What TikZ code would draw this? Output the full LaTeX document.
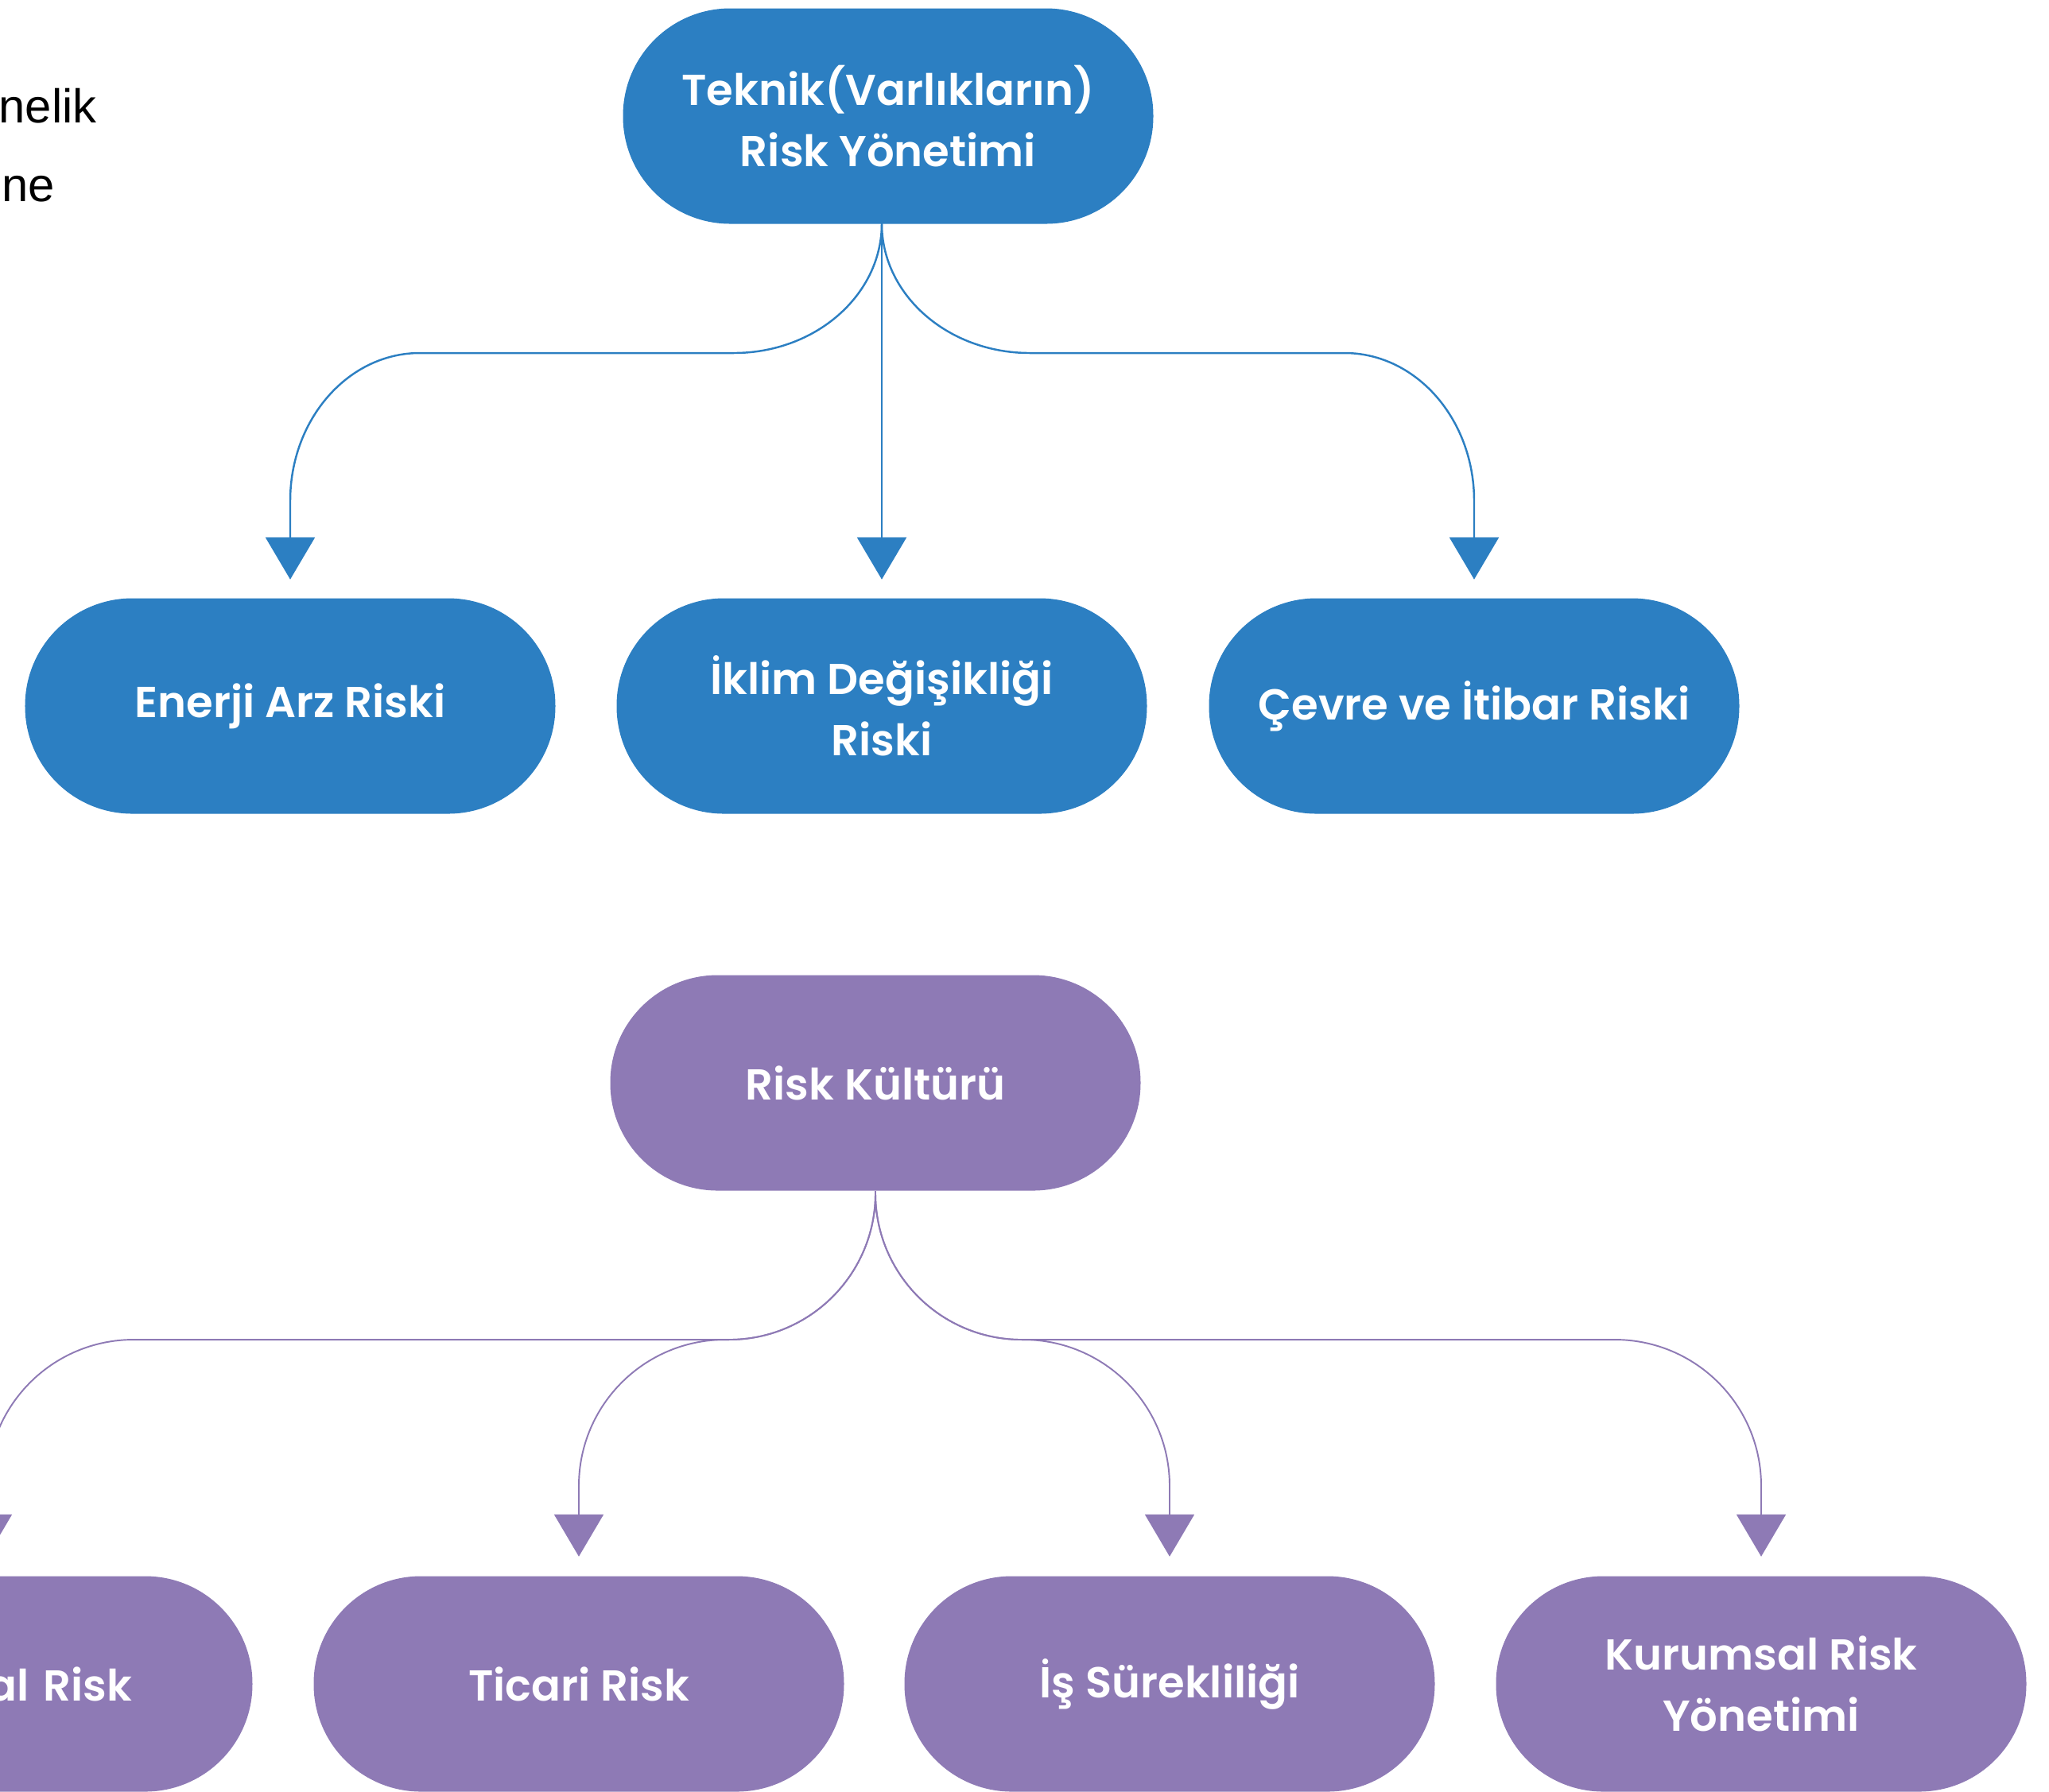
\documentclass[tikz,border=0pt]{standalone}
\usepackage{fontspec}
\newfontfamily\pillfont{Poppins SemiBold}
\newfontfamily\bodyfont{Liberation Sans}
\usetikzlibrary{arrows.meta}
\definecolor{techblue}{RGB}{44,127,194}
\definecolor{culturepurple}{RGB}{142,122,181}

\begin{document}
\begin{tikzpicture}
\tikzstyle{pill}=[fill=techblue, text=white, rounded corners=1.35cm, minimum width=6.67cm, minimum height=2.71cm, inner sep=0pt, align=center, font=\pillfont\fontsize{15.5}{22}\selectfont]
\tikzstyle{culture}=[pill, fill=culturepurple]
\tikzstyle{bluelink}=[draw=techblue, line width=0.7pt, /utils/exec={\pgfsetcornersarced{\pgfpoint{1.63cm}{1.86cm}}}, -{Triangle[length=5.3mm,width=6.2mm]}, shorten >=2.3mm]
\tikzstyle{purplelink}=[draw=culturepurple, line width=0.55pt, rounded corners=1.84cm, -{Triangle[length=5.3mm,width=6.2mm]}, shorten >=2.4mm]
\tikzstyle{pagetext}=[anchor=base west, inner sep=0pt, font=\bodyfont\fontsize{17}{20}\selectfont]
\useasboundingbox (0,0) rectangle (25.77,-22.53);
\node[pagetext] (pageA) at (-0.02,-1.54) {nelik};
\node[pagetext] (pageB) at (0.02,-2.53) {ne};
\node[pill] (tech) at (11.17,-1.46) {Teknik(Varlıkların)\\Risk Yönetimi};
\node[pill] (enerji) at (3.65,-8.88) {Enerji Arz Riski};
\node[pill] (iklim) at (11.09,-8.88) {İklim Değişikliği\\Riski};
\node[pill] (cevre) at (18.54,-8.88) {Çevre ve İtibar Riski};
\node[culture] (kultur) at (11.01,-13.62) {Risk Kültürü};
\node[culture, text width=3.64cm, align=right] (alrisk) at (-0.16,-21.18) {al Risk};
\node[culture] (ticari) at (7.28,-21.18) {Ticari Risk};
\node[culture] (surek) at (14.71,-21.18) {İş Sürekliliği};
\node[culture] (kurumsal) at (22.15,-21.18) {Kurumsal Risk\\Yönetimi};
\coordinate (techout) at (tech.south -| iklim.north);
\coordinate (bluebar) at (0,-4.44);
\coordinate (purplebar) at (0,-16.85);
\draw[bluelink] (techout) -- (techout |- bluebar) -- (enerji.north |- bluebar) -- (enerji.north);
\draw[bluelink] (techout) -- (iklim.north);
\draw[bluelink] (techout) -- (techout |- bluebar) -- (cevre.north |- bluebar) -- (cevre.north);
\draw[purplelink] (kultur.south) -- (kultur.south |- purplebar) -- (alrisk.north |- purplebar) -- (alrisk.north);
\draw[purplelink] (kultur.south) -- (kultur.south |- purplebar) -- (ticari.north |- purplebar) -- (ticari.north);
\draw[purplelink] (kultur.south) -- (kultur.south |- purplebar) -- (surek.north |- purplebar) -- (surek.north);
\draw[purplelink] (kultur.south) -- (kultur.south |- purplebar) -- (kurumsal.north |- purplebar) -- (kurumsal.north);
\end{tikzpicture}
\end{document}
